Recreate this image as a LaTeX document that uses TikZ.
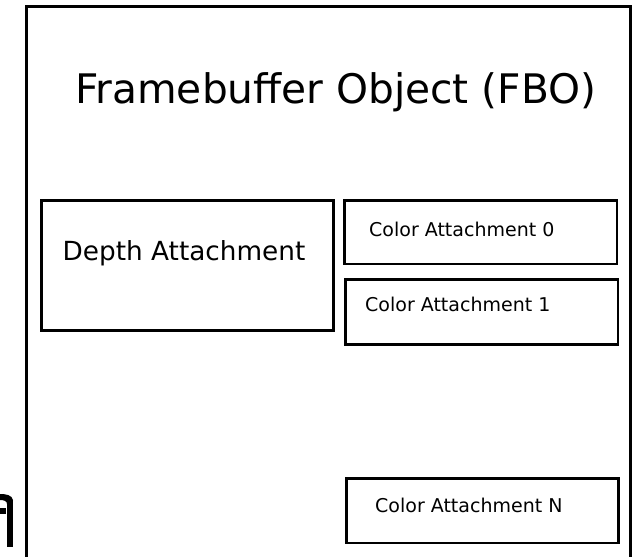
\documentclass[tikz,border=0pt]{standalone}
\usepackage{fontspec}
\setmainfont{DejaVu Sans}
\usetikzlibrary{positioning}
\usetikzlibrary{calc}

\begin{document}
\begin{tikzpicture}[x=1pt,y=-1pt,
    frame/.style={draw, line width=3pt},
    slot/.style={draw, line width=2.8pt, rectangle, inner sep=0pt, outer sep=0pt, anchor=north west},
    slottext/.style={anchor=base west, inner sep=0pt, font=\fontsize{19}{19}\selectfont}]

        \useasboundingbox (0,0) rectangle (633,557);
        \clip (0,0) rectangle (633,557);

        % FBO outline, open at the bottom
        \draw[frame] (26.5,570) -- (26.5,6.5) -- (630.5,6.5) -- (630.5,570);
        \node[anchor=base west, inner sep=0pt, font=\fontsize{40.7}{40.7}\selectfont] (fbo) at (75,103) {Framebuffer Object (FBO)};

        % Attachments
        \node[slot, minimum width=292, minimum height=130] (depth) at (41.5,200.5) {};
        \node[slot, minimum width=272.5, minimum height=63.5] (col0) at (344.5,200.5) {};
        \node[slot, minimum width=272.5, minimum height=65] (col1) at (345.5,279.5) {};
        \node[slot, minimum width=272, minimum height=64.5] (colN) at (346.5,478.5) {};

        \node[anchor=base west, inner sep=0pt, font=\fontsize{26.3}{26.3}\selectfont] (depthtxt) at ($(depth.north west)+(21,59.5)$) {Depth Attachment};
        \node[slottext] (col0txt) at ($(col0.north west)+(24.5,35.5)$) {Color Attachment 0};
        \node[slottext] (col1txt) at ($(col1.north west)+(19.5,31.5)$) {Color Attachment 1};
        \node[slottext] (colNtxt) at ($(colN.north west)+(28.5,33.5)$) {Color Attachment N};

        % stray glyph piece at the left edge
        \fill (7,500) rectangle (13,547);
        \fill (13,500) .. controls (12,495) and (6,494) .. (0,494) -- (0,500) .. controls (4,500) and (7,501) .. (7,504) -- cycle;
        \fill (0,508) rectangle (6,514);
    \end{tikzpicture}
\end{document}
